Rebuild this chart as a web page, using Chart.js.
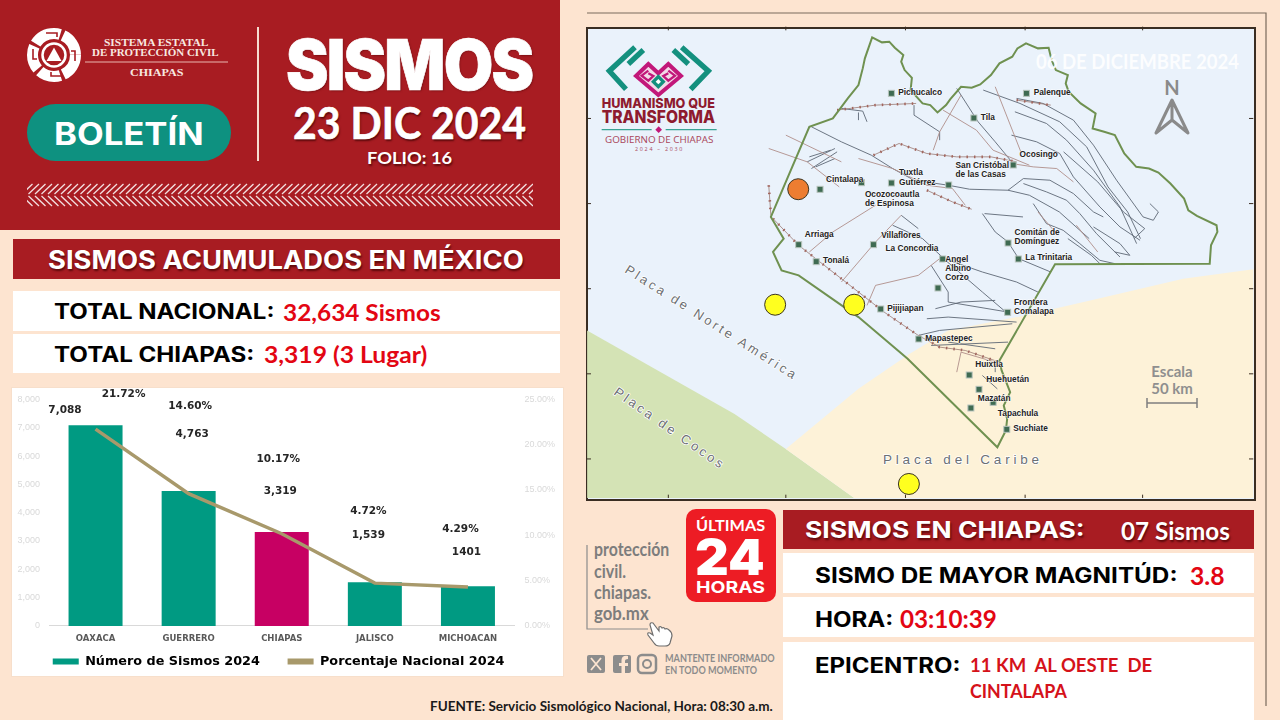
<!DOCTYPE html>
<html lang="es">
<head>
<meta charset="utf-8">
<title>Boletín Sismos 23 DIC 2024</title>
<script src="https://cdn.jsdelivr.net/npm/chart.js@4"></script>
<style>
  html, body { margin: 0; padding: 0; background: #fde4d0; }
  #page { position: relative; width: 1280px; height: 720px; overflow: hidden; background: #fde4d0; font-family: "Lato", sans-serif; }
  .box { position: absolute; }
  .t { position: absolute; white-space: nowrap; line-height: 1; transform: translateY(-50%); transform-origin: left center; }
  .red { color: #e30613; }
  .shadow { text-shadow: 1px 2px 2px rgba(60,0,0,.7); }
  .head { font-family: "Inter", sans-serif; font-weight: 700; }
  .cal { font-family: "Lato", sans-serif; font-weight: 700; }
  svg { position: absolute; left: 0; top: 0; }
  #chartBox { position: absolute; left: 12px; top: 388px; width: 551px; height: 288px; background: #fff; box-shadow: 0 0 0 1px #f7dfcb; }
  #chartInner { position: absolute; left: 0; top: -4px; width: 551px; height: 292px; }
  #mapFrame { position: absolute; left: 586px; top: 27px; width: 666px; height: 470px; border: 2px solid #3a2d22; background: #eaf2fb; overflow: hidden; }
  #mapChartBox { position: absolute; left: 585px; top: 25px; width: 670px; height: 475px; }
</style>
</head>
<body>
<div id="page">

  <!-- encabezado -->
  <div class="box" style="left:0;top:0;width:560px;height:230px;background:#a81c22"></div>
  <svg width="1280" height="720" style="pointer-events:none">
    <defs>
      <pattern id="zigzag" width="13" height="24" patternUnits="userSpaceOnUse" x="27" y="183">
        <path d="M12 1 L1.500 11 M12 23 L1.500 13 M5.500 1 L-5 11 M5.500 23 L-5 13 M18.500 1 L8 11 M18.500 23 L8 13" fill="none" stroke="#fff" stroke-width="1.300"/>
      </pattern>
    </defs>
    <rect x="27" y="183" width="506" height="24" fill="url(#zigzag)" opacity=".85"/>
    <line x1="258" y1="27" x2="258" y2="161" stroke="#f6dcd0" stroke-width="2"/>
    <!-- emblema -->
    <g transform="translate(54,55)">
      <circle r="21.5" fill="none" stroke="#fff" stroke-width="11" stroke-dasharray="24 3 22 3 24 3 28 3 24 3"/>
      <circle r="11.5" fill="none" stroke="#fff" stroke-width="2.5"/>
      <path d="M0 -7.5 L7.5 6 L-7.5 6 Z" fill="#fff"/>
      <path d="M-8 -22 h11 v4 M8 21 h-11 v-4 M-21 -6 v10 h4 M21 6 v-10 h-4" fill="none" stroke="#a81c22" stroke-width="1.6"/>
    </g>
    <line x1="85" y1="62" x2="228" y2="62" stroke="#e9b7b0" stroke-width="1"/>
    <!-- pastilla -->
    <rect x="27" y="104" width="204" height="57" rx="28.5" fill="#0e9180"/>
    <!-- enlace a la pagina -->
    <path d="M587 545 V629 H648" fill="none" stroke="#8c8c8c" stroke-width="1.2"/>
    <rect x="686" y="509" width="90" height="93" rx="10" fill="#ed1c24"/>
    <!-- mano -->
    <path d="M654 626 l6 8 v-4 q2 -1 3 1 q2 -1 3 1 q2 -1 4 1 q3 2 3 6 l-2 7 q-1 3 -5 3 h-6 q-3 0 -5 -3 l-6 -8 q-1 -3 2 -2 l3 2 l-3 -10 q0 -3 3 -2 z" fill="#fff" stroke="#6e6e6e" stroke-width="1.2" transform="translate(-1,-3)"/>
    <!-- redes -->
    <rect x="587" y="655" width="18" height="18" rx="2" fill="#8c8c8c"/>
    <path d="M591 658 L601 670 M601 658 L591 670" stroke="#fde4d0" stroke-width="1.8"/>
    <rect x="613" y="655" width="18" height="18" rx="2" fill="#8c8c8c"/>
    <path d="M625 673 v-7 h3 v-3 h-3 v-2 q0 -2 3 -2 v-3 q-6 -1 -6.500 4 v3 h-2.500 v3 h2.500 v7 z" fill="#fde4d0"/>
    <rect x="638" y="655" width="18" height="18" rx="4" fill="none" stroke="#8c8c8c" stroke-width="2.500"/>
    <circle cx="647" cy="664" r="4" fill="none" stroke="#8c8c8c" stroke-width="2"/>
    <!-- marco exterior -->
    <path d="M587 13 H1266 V706" fill="none" stroke="#7a6a5c" stroke-width="1.200"/>
  </svg>

  <div class="t" data-w="104" style="left:104px;top:42px;font:700 10px 'Liberation Serif';color:#f8e8e0">SISTEMA ESTATAL</div>
  <div class="t" data-w="127" style="left:92px;top:52px;font:700 10px 'Liberation Serif';color:#f8e8e0">DE PROTECCIÓN CIVIL</div>
  <div class="t" data-w="53" style="left:130px;top:72px;font:700 10px 'Liberation Serif';color:#f8e8e0">CHIAPAS</div>
  <div class="t head" data-w="150" style="left:54px;top:133px;font-size:31px;color:#fff">BOLETÍN</div>
  <div class="t" data-w="246" style="left:286px;top:64px;font:900 70px 'Inter';letter-spacing:-2px;color:#fff;-webkit-text-stroke:.7px #fff;text-shadow:1px 1px 2px rgba(70,0,0,.5)">SISMOS</div>
  <div class="t cal shadow" data-w="233" style="left:293px;top:122px;font-size:44px;color:#fff;-webkit-text-stroke:.6px #fff">23 DIC 2024</div>
  <div class="t cal shadow" data-w="85" style="left:367px;top:157px;font-size:17px;color:#fff">FOLIO: 16</div>

  <!-- bloque acumulados -->
  <div class="box" style="left:13px;top:239px;width:547px;height:40px;background:#a81c22"></div>
  <div class="t head shadow" data-w="476" style="left:48px;top:260px;font-size:25px;color:#fff">SISMOS ACUMULADOS EN MÉXICO</div>
  <div class="box" style="left:13px;top:291px;width:547px;height:40px;background:#fff"></div>
  <div class="box" style="left:13px;top:334px;width:547px;height:39px;background:#fff"></div>
  <div class="t head" data-w="221" style="left:54px;top:311px;font-size:21px;color:#000">TOTAL NACIONAL:</div>
  <div class="t cal red" data-w="158" style="left:283px;top:312px;font-size:23px">32,634 Sismos</div>
  <div class="t head" data-w="200" style="left:54px;top:354px;font-size:21px;color:#000">TOTAL CHIAPAS:</div>
  <div class="t cal red" data-w="163" style="left:264px;top:354px;font-size:23px">3,319 (3 Lugar)</div>

  <div id="chartBox"><div id="chartInner"><canvas id="barChart"></canvas></div></div>

  <!-- mapa -->
  <div id="mapFrame"></div>
  <svg id="mapShapes" viewBox="0 0 1568 1423" preserveAspectRatio="none" style="left:585px;top:25px;width:670px;height:475px"></svg>
  <svg id="mapText" viewBox="0 0 670 475" style="left:585px;top:25px;width:670px;height:475px">
    <g transform="translate(15,15) scale(.3333)">
      <g fill="none" stroke="#14907e" stroke-width="16">
        <path d="M105 22 L28 93 L78 148"/><path d="M130 30 L85 72"/>
        <path d="M245 22 L325 93 L272 148"/><path d="M220 30 L265 72"/>
      </g>
      <path d="M145 72 L175 100 L205 72 L243 108 L175 165 L108 108 Z" fill="#f3dbe8" stroke="#c2187a" stroke-width="12"/>
      <path d="M145 92 L125 107 L145 122 L160 108 L145 100 M205 92 L225 107 L205 122 L190 108 L205 100" fill="none" stroke="#c2187a" stroke-width="7"/>
      <path d="M175 103 L197 125 L175 147 L153 125 Z" fill="#14907e"/>
      <path d="M175 117 L183 125 L175 133 L167 125 Z" fill="#fff"/>
      <text x="5" y="205" font-family="Inter" font-weight="800" font-size="41" fill="#8e1b2f" textLength="340" lengthAdjust="spacingAndGlyphs">HUMANISMO QUE</text>
      <text x="5" y="248" font-family="Inter" font-weight="800" font-size="52" fill="#8e1b2f" textLength="340" lengthAdjust="spacingAndGlyphs">TRANSFORMA</text>
      <path d="M5 269 H155 M197 269 H350" stroke="#3aa394" stroke-width="4"/>
      <path d="M176 259 L186 269 L176 279 L166 269 Z" fill="#c2187a"/>
      <text x="15" y="310" font-family="Open Sans" font-size="28" fill="#a9455a" textLength="325" lengthAdjust="spacingAndGlyphs">GOBIERNO DE CHIAPAS</text>
      <text x="105" y="333" font-family="Open Sans" font-size="16" fill="#a9455a" textLength="142">2024 – 2030</text>
    </g>
    <text x="451" y="44" font-family="Lato" font-weight="700" font-size="20" fill="#fff" fill-opacity=".88" textLength="203" lengthAdjust="spacingAndGlyphs">06 DE DICIEMBRE 2024</text>
    <text x="587" y="70" font-family="Lato" font-weight="700" font-size="20" fill="#8a8a8a" text-anchor="middle">N</text>
    <path d="M571 108 L587 75 L603 108 L587 95 Z M587 75 V95" fill="none" stroke="#8a8a8a" stroke-width="3" stroke-linejoin="round"/>
    <text x="587" y="352" font-family="Lato" font-weight="700" font-size="15" fill="#8f8f8f" text-anchor="middle">Escala</text>
    <text x="587" y="369" font-family="Lato" font-weight="700" font-size="15" fill="#8f8f8f" text-anchor="middle">50 km</text>
    <path d="M562 378 H612 M562 373 V383 M612 373 V383" stroke="#7f7f7f" stroke-width="1.500" fill="none"/>
  </svg>
  <div id="mapChartBox"><canvas id="mapChart"></canvas></div>

  <!-- ultimas 24 -->
  <div class="t cal" data-w="69" style="left:696px;top:525px;font-size:16px;color:#fff">ÚLTIMAS</div>
  <div class="t" data-w="70" style="left:695px;top:557px;font:900 50px 'Inter';color:#fff">24</div>
  <div class="t head" data-w="69" style="left:696px;top:587px;font-size:16px;color:#fff">HORAS</div>

  <div class="t cal" style="left:594px;top:549px;font-size:18px;color:#7d7d7d" data-w="75">protección</div>
  <div class="t cal" style="left:594px;top:571px;font-size:18px;color:#7d7d7d" data-w="32">civil.</div>
  <div class="t cal" style="left:594px;top:592px;font-size:18px;color:#7d7d7d" data-w="57">chiapas.</div>
  <div class="t cal" style="left:594px;top:613px;font-size:18px;color:#7d7d7d" data-w="55">gob.mx</div>
  <div class="t cal" data-w="110" style="left:665px;top:657px;font-size:11px;color:#8c8c8c">MANTENTE INFORMADO</div>
  <div class="t cal" data-w="92" style="left:665px;top:669px;font-size:11px;color:#8c8c8c">EN TODO MOMENTO</div>
  <div class="t cal" data-w="343" style="left:430px;top:706px;font-size:13px;color:#1a1a1a">FUENTE: Servicio Sismológico Nacional, Hora: 08:30 a.m.</div>

  <!-- sismos en chiapas -->
  <div class="box" style="left:783px;top:510px;width:471px;height:39px;background:#a81c22"></div>
  <div class="box" style="left:783px;top:553px;width:471px;height:40px;background:#fff"></div>
  <div class="box" style="left:783px;top:597px;width:471px;height:40px;background:#fff"></div>
  <div class="box" style="left:783px;top:642px;width:471px;height:78px;background:#fff"></div>
  <div class="t head shadow" data-w="280" style="left:805px;top:530px;font-size:23px;color:#fff">SISMOS EN CHIAPAS:</div>
  <div class="t cal shadow" data-w="109" style="left:1121px;top:531px;font-size:24px;color:#fff">07 Sismos</div>
  <div class="t head" data-w="363" style="left:815px;top:575px;font-size:21px;color:#000">SISMO DE MAYOR MAGNITÚD:</div>
  <div class="t cal red" data-w="35" style="left:1190px;top:576px;font-size:24px">3.8</div>
  <div class="t head" data-w="78" style="left:815px;top:619px;font-size:21px;color:#000">HORA:</div>
  <div class="t cal red" data-w="97" style="left:900px;top:619px;font-size:24px">03:10:39</div>
  <div class="t head" data-w="146" style="left:815px;top:665px;font-size:21px;color:#000">EPICENTRO:</div>
  <div class="t cal red" data-w="182" style="left:970px;top:665px;font-size:18px;color:#d5121a;white-space:pre">11 KM  AL OESTE  DE</div>
  <div class="t cal red" data-w="97" style="left:970px;top:691px;font-size:18px;color:#d5121a">CINTALAPA</div>
</div>

<script>
// datos de la grafica
var categories = ["OAXACA", "GUERRERO", "CHIAPAS", "JALISCO", "MICHOACAN"];
var sismos = [7088, 4763, 3319, 1539, 1401];
var porcentaje = [21.72, 14.60, 10.17, 4.72, 4.29];
var sismosText = ["7,088", "4,763", "3,319", "1,539", "1401"];
var porcentajeText = ["21.72%", "14.60%", "10.17%", "4.72%", "4.29%"];

// epicentros sobre el mapa (unidades del mapa) y su color
var epicentroX = [499, 445, 630, 758];
var epicentroY = [492, 838, 838, 1375];
var epicentroColor = ["#ed7d31", "#ffff1f", "#ffff1f", "#ffff1f"];

// desplazamiento de las etiquetas respecto a cada marca
var sismosDx = [-30.6, 3.5, -1.5, -6.5, -1.5];
var sismosDy = [-15, -57, -41, -47, -34];
var porcentajeDx = [28, 1.5, -3.5, -6.5, -7.5];
var porcentajeDy = [-35, -87, -74.5, -72, -58];

var TEAL = "#009a82";
var MAGENTA = "#c70063";
var GOLD = "#a8996b";

// etiquetas sueltas de la grafica
var labelsPlugin = {
  id: "labelsPlugin",
  afterDatasetsDraw: function (chart) {
    var ctx = chart.ctx;
    var bars = chart.getDatasetMeta(0).data;
    var pts = chart.getDatasetMeta(1).data;
    ctx.save();
    ctx.font = "bold 10.5px 'DejaVu Sans'";
    ctx.fillStyle = "#262626";
    ctx.textAlign = "center";
    ctx.textBaseline = "middle";
    for (var i = 0; i < categories.length; i++) {
      ctx.fillText(sismosText[i], bars[i].x + sismosDx[i], bars[i].y + sismosDy[i]);
      ctx.fillText(porcentajeText[i], pts[i].x + porcentajeDx[i], pts[i].y + porcentajeDy[i]);
    }
    ctx.restore();
  }
};

var legendGaps = ["\u00A0\u00A0\u00A0\u00A0\u00A0\u00A0", "\u00A0\u00A0\u00A0\u00A0"];

var ctxB = document.getElementById("barChart").getContext("2d");
var barChart = new Chart(ctxB, {
  type: "bar",
  data: {
    labels: categories,
    datasets: [{
      label: "Número de Sismos 2024",
      data: sismos,
      yAxisID: "y",
      order: 2,
      categoryPercentage: 1,
      barPercentage: 0.58,
      backgroundColor: categories.map(function (c) { return c === "CHIAPAS" ? MAGENTA : TEAL; })
    }, {
      label: "Porcentaje Nacional 2024",
      type: "line",
      data: porcentaje,
      yAxisID: "y2",
      order: 1,
      borderColor: GOLD,
      backgroundColor: GOLD,
      borderWidth: 3.5,
      pointRadius: 0,
      tension: 0
    }]
  },
  plugins: [labelsPlugin],
  options: {
    responsive: true,
    maintainAspectRatio: false,
    animation: false,
    layout: { autoPadding: false, padding: { top: 7, bottom: -2 } },
    plugins: {
      tooltip: { enabled: false },
      legend: {
        position: "bottom",
        labels: {
          boxWidth: 26,
          boxHeight: 6,
          padding: 1,
          color: "#000",
          font: { family: "DejaVu Sans", weight: "bold", size: 12.8 },
          generateLabels: function (chart) {
            return chart.data.datasets.map(function (d, i) {
              return {
                // los espacios separan las dos entradas sin tocar la altura de la leyenda
                text: d.label + legendGaps[i],
                fillStyle: i === 0 ? TEAL : GOLD,
                strokeStyle: i === 0 ? TEAL : GOLD,
                lineWidth: 0,
                datasetIndex: i,
                fontColor: "#000"
              };
            });
          }
        }
      }
    },
    scales: {
      x: {
        grid: { display: false, drawTicks: false },
        border: { color: "#d9d9d9" },
        afterFit: function (s) { s.height = 28.3; },
        ticks: {
          color: "#595959",
          padding: 8,
          maxRotation: 0,
          font: { family: "DejaVu Sans", weight: "bold", size: 8.5 }
        }
      },
      y: {
        min: 0,
        max: 8000,
        grid: { display: false, drawTicks: false },
        border: { display: false },
        afterFit: function (s) { s.width = 37; },
        ticks: {
          stepSize: 1000,
          color: "#d9d9d9",
          padding: 9,
          font: { family: "Liberation Sans", size: 9 },
          callback: function (v) { return v.toLocaleString("en-US"); }
        }
      },
      y2: {
        position: "right",
        min: 0,
        max: 25,
        grid: { display: false, drawTicks: false },
        border: { display: false },
        afterFit: function (s) { s.width = 48.5; },
        ticks: {
          stepSize: 5,
          color: "#d9d9d9",
          padding: 10,
          font: { family: "Liberation Sans", size: 9 },
          callback: function (v) { return v.toFixed(2) + "%"; }
        }
      }
    }
  }
});

// epicentros, con escalas propias del mapa
var ctxM = document.getElementById("mapChart").getContext("2d");
var mapChart = new Chart(ctxM, {
  type: "scatter",
  data: {
    datasets: [{
      data: epicentroX.map(function (x, i) { return { x: x, y: epicentroY[i] }; }),
      pointRadius: 10.5,
      pointBackgroundColor: epicentroColor,
      pointBorderColor: "#3a3320",
      pointBorderWidth: 1,
      clip: false
    }]
  },
  options: {
    responsive: true,
    maintainAspectRatio: false,
    animation: false,
    layout: { autoPadding: false, padding: 0 },
    plugins: { legend: { display: false }, tooltip: { enabled: false } },
    scales: {
      x: { display: false, min: 0, max: 1568 },
      y: { display: false, min: 0, max: 1423, reverse: true }
    }
  }
});
</script>

<script>
// dibujo del mapa: poligonos y fallas en unidades del mapa
var NS = "http://www.w3.org/2000/svg";
var shapes = document.getElementById("mapShapes");
var texts = document.getElementById("mapText");

function addPath(parent, d, attrs) {
  var p = document.createElementNS(NS, "path");
  p.setAttribute("d", d);
  p.setAttribute("vector-effect", "non-scaling-stroke");
  p.setAttribute("fill", "none");
  for (var k in attrs) p.setAttribute(k, attrs[k]);
  parent.appendChild(p);
}

addPath(shapes, "M5 915 L350 1165 470 1270 630 1417 5 1417 Z", { fill: "#d4e3b5" });
addPath(shapes, "M470 1270 L640 1090 760 985 850 915 1030 870 1200 820 1400 760 1564 732 1564 1417 630 1417 Z", { fill: "#fdf2d8" });

var grayFaults = [
  "M530 305 L600 350 670 390 720 430 770 465 850 480 900 492 990 495 1040 510 1110 560 1180 640",
  "M932 195 L1018 235 1111 290 1174 365 1224 485 1270 560 1300 640",
  "M1010 220 L1072 235 1143 285 1190 360 1244 465 1306 575 1330 585 1342 560 1322 535",
  "M1006 260 L1080 295 1127 345 1190 435 1252 545 1291 655",
  "M998 330 L1057 350 1111 385 1143 455 1205 545 1252 605 1299 645",
  "M990 495 L1026 460 1088 465 1143 505 1190 560 1213 575",
  "M1026 475 L1080 500 1127 525 1158 565 1197 625 1252 695",
  "M1049 535 L1080 595 1119 615 1158 655 1205 705 1240 715",
  "M1190 605 L1252 655 1275 690 1240 680",
  "M1120 380 L1200 470 1260 560 1310 610 1285 640",
  "M1130 640 L1185 690 1205 715",
  "M930 565 L960 620 990 650 1015 700 1090 740",
  "M935 565 L1025 575",
  "M770 240 L770 270 830 320 830 345",
  "M870 190 L920 290 960 350 1002 415",
  "M720 600 L790 640 840 700 930 740 1010 770 1060 800",
  "M810 720 L850 800 850 830 990 860",
  "M830 690 L930 800 985 860",
  "M740 570 L780 610",
  "M600 250 L650 258 660 290 M640 262 L640 285",
  "M520 410 L585 370 M530 430 L590 380 M540 425 L585 400 M525 395 L575 375",
  "M820 850 L880 830 960 825 M800 880 L850 875 1010 890 M780 930 L830 915 1000 895",
  "M810 960 L990 950 M850 950 L960 970",
  "M960 1010 L960 1040 M930 1050 L965 1090"
];
var pinkFaults = [
  "M880 210 L830 320 815 375",
  "M838 255 L916 315 955 375 1040 420",
  "M998 415 L1049 425 1104 430 1143 470",
  "M740 570 L680 650 600 770",
  "M680 540 L580 620 525 680",
  "M830 700 L780 750 680 780 660 840",
  "M470 330 L600 410 M430 370 L520 410 595 485",
  "M640 400 L720 430 800 480 860 490 890 540",
  "M1060 560 L1100 620 M1150 600 L1200 680",
  "M870 1040 L880 980 960 1010",
  "M960 185 L1020 380"
];
var thrusts = [
  "M590 255 L680 240 775 235",
  "M675 390 L735 355 800 385 870 395 950 395 1010 410",
  "M800 495 L860 530 905 552",
  "M430 480 L435 570",
  "M440 580 L500 660 560 720 640 800 700 860 780 930 830 965 890 975 970 1010",
  "M1010 225 L1090 240"
];
grayFaults.forEach(function (d) { addPath(shapes, d, { stroke: "#5d6875", "stroke-width": 0.9 }); });
pinkFaults.forEach(function (d) { addPath(shapes, d, { stroke: "#b08f8a", "stroke-width": 0.9 }); });
thrusts.forEach(function (d) {
  addPath(shapes, d, { stroke: "#9c7a72", "stroke-width": 0.8 });
  addPath(shapes, d, { stroke: "#a2665e", "stroke-width": 2.6, "stroke-dasharray": "1.5 6" });
});

// contorno del estado
addPath(shapes, "M672 37 L695 52 712 50 725 68 745 90 740 110 748 135 765 158 762 195 790 235 808 240 825 262 845 240 855 222 880 185 905 188 925 178 950 150 970 115 1000 95 1012 70 1032 55 1060 70 1085 68 1092 105 1102 135 1130 150 1125 175 1132 200 1160 235 1195 265 1188 310 1215 320 1240 330 1262 385 1290 425 1320 430 1342 442 1370 475 1402 520 1412 555 1432 572 1478 600 1480 620 1465 660 1462 715 1100 717 970 1005 975 1035 995 1100 980 1140 988 1180 985 1215 965 1265 755 1000 640 875 500 750 460 735 440 680 465 640 435 575 525 305 580 280 615 220 640 180 650 130 655 100 Z",
  { stroke: "#6f9150", "stroke-width": 2 });

// marcas del marco
[195, 470, 750, 1030, 1305].forEach(function (x) {
  addPath(shapes, "M" + x + " 5 V16 M" + x + " 1417 V1407", { stroke: "#3a2d22", "stroke-width": 1 });
});
[280, 535, 790, 1045, 1300].forEach(function (y) {
  addPath(shapes, "M4 " + y + " H14 M1564 " + y + " H1554", { stroke: "#3a2d22", "stroke-width": 1 });
});

function addText(str, x, y, o) {
  var t = document.createElementNS(NS, "text");
  t.textContent = str;
  t.setAttribute("x", x);
  t.setAttribute("y", y);
  for (var k in o) t.setAttribute(k, o[k]);
  texts.appendChild(t);
}

// ciudades: unidades del mapa
var citySquares = [[717,205],[1033,205],[910,279],[1002,420],[717,474],[851,480],[647,473],[550,493],[500,659],[541,710],[675,659],[837,702],[826,789],[990,654],[1014,702],[692,852],[989,862],[781,942],[899,1050],[922,1093],[955,1132],[903,1149],[987,1213]];
var cityLabels = [["Pichucalco",733,200],["Palenque",1050,200],["Tila",926,275],["Ocosingo",1017,388],["San Cristóbal",867,421],["de las Casas",867,448],["Tuxtla",735,442],["Gutiérrez",735,470],["Cintalapa",564,461],["Ocozocoautla",655,507],["de Espinosa",655,535],["Arriaga",514,627],["Tonalá",557,706],["Villaflores",693,629],["La Concordia",703,670],["Angel",843,702],["Albino",843,729],["Corzo",843,756],["Comitán de",1005,621],["Domínguez",1005,649],["La Trinitaria",1030,697],["Frontera",1004,832],["Comalapa",1004,859],["Pijijiapan",707,850],["Mapastepec",796,939],["Huixtla",913,1018],["Huehuetán",939,1063],["Mazatán",919,1118],["Tapachula",966,1165],["Suchiate",1002,1209]];

citySquares.forEach(function (c) {
  var r = document.createElementNS(NS, "rect");
  r.setAttribute("x", c[0] / 2.34 - 3);
  r.setAttribute("y", c[1] / 3 - 3);
  r.setAttribute("width", 6);
  r.setAttribute("height", 6);
  r.setAttribute("fill", "#3f6b52");
  r.setAttribute("stroke", "#b8c4bd");
  r.setAttribute("stroke-width", 1);
  texts.appendChild(r);
});
cityLabels.forEach(function (c) {
  addText(c[0], c[1] / 2.34, c[2] / 3 + 3, {
    "font-family": "Liberation Sans", "font-weight": 700, "font-size": 8.3, fill: "#222",
    "paint-order": "stroke", stroke: "#fff", "stroke-width": 0.8
  });
});

// placas
var plateStyle = { "font-family": "Liberation Sans", "font-size": 13, fill: "#6c7074", "letter-spacing": 3, "paint-order": "stroke", stroke: "#fff", "stroke-width": 1.500 };
addText("Placa de Norte América", 39, 247, Object.assign({ transform: "rotate(32.5 39 247)" }, plateStyle));
addText("Placa de Cocos", 28, 369, Object.assign({ transform: "rotate(35 28 369)" }, plateStyle));
addText("Placa del Caribe", 298, 439, Object.assign({}, plateStyle, { "font-size": 13.5, "letter-spacing": 3.8 }));

// ajuste de anchos del texto
document.querySelectorAll("[data-w]").forEach(function (el) {
  var k = parseFloat(el.getAttribute("data-w")) / el.offsetWidth;
  el.style.transform = "translateY(-50%) scaleX(" + k.toFixed(3) + ")";
});
</script>
</body>
</html>
